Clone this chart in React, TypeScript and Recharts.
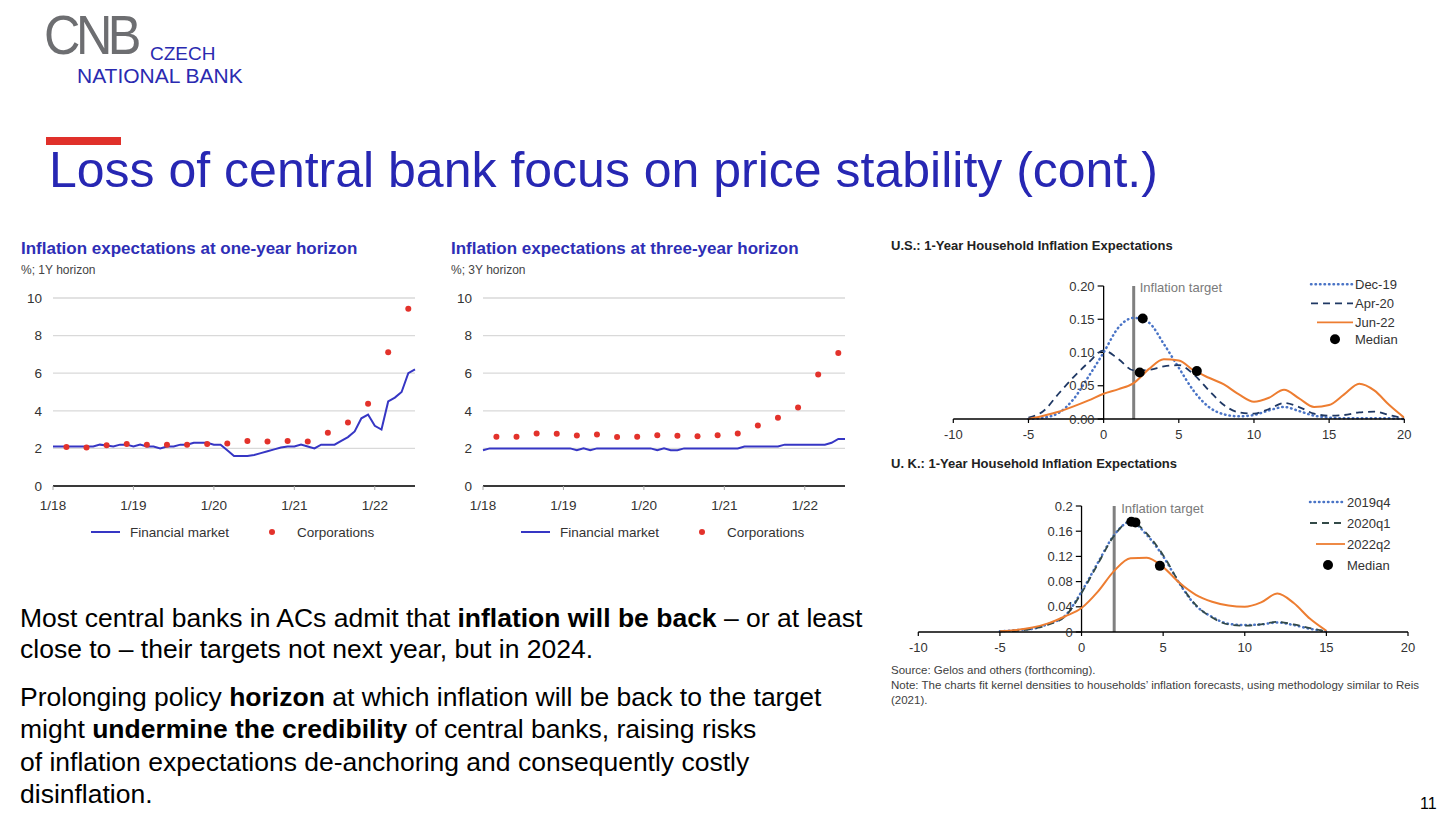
import React from 'react'
import {
  ComposedChart,
  LineChart,
  Line,
  Scatter,
  XAxis,
  YAxis,
  CartesianGrid,
  ReferenceLine,
  Legend,
} from 'recharts'

const FONT = '"Liberation Sans", Arial, Helvetica, sans-serif'
const BLUE = '#2e2eb6'

// left panels: monthly points 1/18 .. 7/22, corporations quarterly (Mar, Jun, Sep, Dec)
const YEAR_TICKS = ['1/18', '1/19', '1/20', '1/21', '1/22']

const FM_1Y = [
  2.1, 2.1, 2.1, 2.1, 2.1, 2.1, 2.1, 2.2, 2.15, 2.1, 2.2, 2.2,
  2.1, 2.2, 2.1, 2.1, 2.0, 2.1, 2.1, 2.2, 2.2, 2.3, 2.3, 2.3,
  2.2, 2.2, 1.9, 1.6, 1.6, 1.6, 1.65, 1.75, 1.85, 1.95, 2.05, 2.1,
  2.1, 2.2, 2.1, 2.0, 2.2, 2.2, 2.2, 2.4, 2.6, 2.9, 3.6, 3.8,
  3.2, 3.0, 4.5, 4.7, 5.0, 6.0, 6.2,
]
const CORP_1Y = [2.08, 2.05, 2.17, 2.24, 2.19, 2.2, 2.19, 2.24, 2.26, 2.4, 2.37, 2.4, 2.37, 2.83, 3.38, 4.38, 7.12, 9.43]

const FM_3Y = [
  1.9, 2.0, 2.0, 2.0, 2.0, 2.0, 2.0, 2.0, 2.0, 2.0, 2.0, 2.0,
  2.0, 2.0, 1.9, 2.0, 1.9, 2.0, 2.0, 2.0, 2.0, 2.0, 2.0, 2.0,
  2.0, 2.0, 1.9, 2.0, 1.9, 1.9, 2.0, 2.0, 2.0, 2.0, 2.0, 2.0,
  2.0, 2.0, 2.0, 2.1, 2.1, 2.1, 2.1, 2.1, 2.1, 2.2, 2.2, 2.2,
  2.2, 2.2, 2.2, 2.2, 2.3, 2.5, 2.5,
]
const CORP_3Y = [2.62, 2.62, 2.79, 2.78, 2.69, 2.74, 2.6, 2.62, 2.7, 2.67, 2.65, 2.7, 2.79, 3.22, 3.63, 4.18, 5.93, 7.08]

// right panels: kernel densities
const X_TICKS = [-10, -5, 0, 5, 10, 15, 20]

const US_X = [-5, -4, -3, -2, -1, 0, 1, 2, 3, 4, 5, 6, 7, 8, 9, 10, 11, 12, 13, 14, 15, 16, 17, 18, 19, 20]
const US_DEC19 = [0, 0.002, 0.009, 0.03, 0.064, 0.1, 0.138, 0.152, 0.145, 0.113, 0.077, 0.042, 0.018, 0.007, 0.004, 0.006, 0.013, 0.018, 0.012, 0.005, 0.002, 0.001, 0.001, 0.001, 0.001, 0]
const US_APR20 = [0.002, 0.012, 0.038, 0.063, 0.085, 0.103, 0.09, 0.073, 0.074, 0.079, 0.081, 0.067, 0.043, 0.021, 0.01, 0.008, 0.015, 0.024, 0.018, 0.008, 0.005, 0.006, 0.01, 0.011, 0.006, 0.001]
const US_JUN22 = [0, 0.005, 0.011, 0.019, 0.028, 0.038, 0.045, 0.054, 0.075, 0.09, 0.088, 0.073, 0.062, 0.052, 0.037, 0.026, 0.032, 0.044, 0.031, 0.018, 0.021, 0.037, 0.053, 0.043, 0.021, 0.002]
const US_MEDIAN_X = [2.6, 2.4, 6.2]
const US_MEDIAN_Y = [0.151, 0.07, 0.072]
const US_Y_TICKS = [0, 0.05, 0.1, 0.15, 0.2]
const US_Y_LABELS = ['0.00', '0.05', '0.10', '0.15', '0.20']

const UK_X = [-5, -4, -3, -2, -1, 0, 1, 2, 3, 4, 5, 6, 7, 8, 9, 10, 11, 12, 13, 14, 15]
const UK_2019Q4 = [0.001, 0.003, 0.005, 0.013, 0.026, 0.064, 0.11, 0.154, 0.175, 0.154, 0.12, 0.077, 0.042, 0.024, 0.013, 0.011, 0.012, 0.015, 0.011, 0.005, 0.001]
const UK_2020Q1 = [0.001, 0.002, 0.005, 0.012, 0.025, 0.062, 0.108, 0.153, 0.176, 0.156, 0.122, 0.078, 0.043, 0.023, 0.012, 0.01, 0.012, 0.016, 0.012, 0.006, 0.001]
const UK_2022Q2 = [0.001, 0.003, 0.007, 0.014, 0.025, 0.038, 0.064, 0.097, 0.117, 0.118, 0.103, 0.078, 0.059, 0.048, 0.042, 0.04, 0.047, 0.061, 0.046, 0.021, 0.002]
const UK_MEDIAN_X = [3.05, 3.3, 4.8]
const UK_MEDIAN_Y = [0.175, 0.174, 0.105]
const UK_Y_TICKS = [0, 0.04, 0.08, 0.12, 0.16, 0.2]
const UK_Y_LABELS = ['0', '0.04', '0.08', '0.12', '0.16', '0.2']

const monthTable = (fm: number[], corp: number[]) =>
  fm.map((v, m) => ({
    m,
    fm: v,
    corp: m >= 2 && (m - 2) % 3 === 0 && corp[(m - 2) / 3] !== undefined ? corp[(m - 2) / 3] : null,
  }))

function PanelLegend() {
  return (
    <svg width={420} height={20} style={{ display: 'block' }}>
      <line x1={81} x2={110} y1={10} y2={10} stroke="#3636c4" strokeWidth={2} />
      <text x={120} y={10} dominantBaseline="central" fontSize={13.5} fill="#333" fontFamily={FONT}>Financial market</text>
      <circle cx={262} cy={10} r={3} fill="#e3322b" />
      <text x={287} y={10} dominantBaseline="central" fontSize={13.5} fill="#333" fontFamily={FONT}>Corporations</text>
    </svg>
  )
}

function HorizonPanel({ left, title, subtitle, fm, corp }: { left: number; title: string; subtitle: string; fm: number[]; corp: number[] }) {
  const data = monthTable(fm, corp)
  return (
    <>
      <div style={{ position: 'absolute', left: left + 11, top: 239, fontSize: 17, lineHeight: '20px', fontWeight: 'bold', color: BLUE, whiteSpace: 'nowrap' }}>
        {title}
      </div>
      <div style={{ position: 'absolute', left: left + 11, top: 262, fontSize: 12, lineHeight: '16px', color: '#444', whiteSpace: 'nowrap' }}>
        {subtitle}
      </div>
      <div style={{ position: 'absolute', left, top: 285 }}>
        <LineChart width={420} height={265} data={data} margin={{ top: 13, right: 15, bottom: 34, left: 0 }}>
          <CartesianGrid vertical={false} stroke="#d9d9d9" strokeWidth={1.3} />
          <XAxis
            dataKey="m"
            type="number"
            domain={[0, 54]}
            ticks={[0, 12, 24, 36, 48]}
            interval={0}
            tickFormatter={(v: number) => YEAR_TICKS[v / 12]}
            axisLine={{ stroke: '#000', strokeWidth: 1.5 }}
            tickLine={{ stroke: '#aaa' }}
            tickSize={4}
            tickMargin={10}
            height={30}
            tick={{ fontSize: 13.5, fill: '#333', fontFamily: FONT }}
          />
          <YAxis
            type="number"
            domain={[0, 10]}
            ticks={[0, 2, 4, 6, 8, 10]}
            interval={0}
            axisLine={false}
            tickLine={false}
            tickMargin={5}
            width={43}
            tick={{ fontSize: 13.5, fill: '#333', fontFamily: FONT }}
          />
          <Line dataKey="fm" type="linear" stroke="#3636c4" strokeWidth={2} dot={false} activeDot={false} isAnimationActive={false} />
          <Line
            dataKey="corp"
            stroke="none"
            strokeWidth={0}
            dot={{ r: 3, fill: '#e3322b', stroke: 'none' }}
            activeDot={false}
            connectNulls={false}
            isAnimationActive={false}
          />
          <Legend
            layout="vertical"
            align="center"
            verticalAlign="middle"
            wrapperStyle={{ left: 0, top: 237, width: 420, height: 20 }}
            content={() => <PanelLegend />}
          />
        </LineChart>
      </div>
    </>
  )
}

type Series = { key: string; label: string; values: number[]; color: string; kind: 'dot' | 'dash' | 'solid' }

function DensityLegend({ series, rows, x1, x2, tx, dotX }: { series: Series[]; rows: number[]; x1: number; x2: number; tx: number; dotX: number }) {
  return (
    <svg width={120} height={80} style={{ display: 'block' }}>
      {series.map((s, i) => (
        <g key={s.key}>
          <line
            x1={s.kind === 'solid' ? x1 + 6 : x1}
            x2={x2}
            y1={rows[i]}
            y2={rows[i]}
            stroke={s.color}
            strokeWidth={s.kind === 'dot' ? 2.5 : 1.8}
            strokeDasharray={s.kind === 'dot' ? '0.5 4' : s.kind === 'dash' ? '7 5' : undefined}
            strokeLinecap={s.kind === 'dot' ? 'round' : 'butt'}
          />
          <text x={tx} y={rows[i]} dominantBaseline="central" fontSize={13} fill="#333" fontFamily={FONT}>{s.label}</text>
        </g>
      ))}
      <circle cx={dotX} cy={rows[3]} r={5} fill="#000" />
      <text x={tx} y={rows[3]} dominantBaseline="central" fontSize={13} fill="#333" fontFamily={FONT}>Median</text>
    </svg>
  )
}

function DensityPanel(props: {
  left: number
  top: number
  width: number
  height: number
  margin: { top: number; right: number; bottom: number; left: number }
  xs: number[]
  series: Series[]
  medX: number[]
  medY: number[]
  yTicks: number[]
  yLabels: string[]
  tickLen: number
  legendLeft: number
  legendRows: number[]
  legendX: [number, number, number, number]
  targetDx: number
  targetDy: number
}) {
  const data = props.xs.map((x, i) => {
    const row: Record<string, number> = { x }
    props.series.forEach((s) => (row[s.key] = s.values[i]))
    return row
  })
  const medians = props.medX.map((x, i) => ({ x, y: props.medY[i] }))
  const top = props.yTicks[props.yTicks.length - 1]
  return (
    <div style={{ position: 'absolute', left: props.left, top: props.top }}>
      <ComposedChart width={props.width} height={props.height} data={data} margin={props.margin}>
        <XAxis
          dataKey="x"
          type="number"
          domain={[-10, 20]}
          ticks={X_TICKS}
          interval={0}
          allowDataOverflow
          axisLine={{ stroke: '#000', strokeWidth: 1.5 }}
          tickLine={{ stroke: '#000', strokeWidth: 1.2 }}
          tickSize={4}
          tickMargin={7}
          height={25}
          tick={{ fontSize: 13, fill: '#333', fontFamily: FONT }}
        />
        <YAxis type="number" domain={[0, top]} hide />
        <ReferenceLine
          segment={[{ x: 2, y: 0 }, { x: 2, y: top }]}
          stroke="#808080"
          strokeWidth={3}
          label={(p: any) => (
            <text
              x={p.viewBox.x + props.targetDx}
              y={p.viewBox.y + props.targetDy}
              dominantBaseline="central"
              fontSize={13}
              fill="#7a7a7a"
              fontFamily={FONT}
            >
              Inflation target
            </text>
          )}
        />
        <ReferenceLine segment={[{ x: 0, y: 0 }, { x: 0, y: top }]} stroke="#000" strokeWidth={1.3} />
        {props.yTicks.map((v, i) => (
          <ReferenceLine
            key={v}
            segment={[{ x: -props.tickLen, y: v }, { x: 0, y: v }]}
            stroke="#000"
            strokeWidth={1.2}
            label={{ value: props.yLabels[i], position: 'left', offset: 3, fontSize: 13, fill: '#333', fontFamily: FONT }}
          />
        ))}
        {props.series.map((s) => (
          <Line
            key={s.key}
            dataKey={s.key}
            type="monotone"
            stroke={s.color}
            strokeWidth={s.kind === 'dot' ? 2.5 : s.kind === 'dash' ? 1.8 : 2}
            strokeDasharray={s.kind === 'dot' ? '0.5 4' : s.kind === 'dash' ? '7 5' : undefined}
            strokeLinecap={s.kind === 'dot' ? 'round' : 'butt'}
            dot={false}
            activeDot={false}
            isAnimationActive={false}
          />
        ))}
        <Scatter
          data={medians}
          dataKey="y"
          fill="#000"
          shape={(p: any) => <circle cx={p.cx} cy={p.cy} r={5} fill="#000" />}
          isAnimationActive={false}
        />
        <Legend
          layout="vertical"
          align="center"
          verticalAlign="middle"
          wrapperStyle={{ left: props.legendLeft, top: 0, width: 120, height: 80 }}
          content={() => (
            <DensityLegend
              series={props.series}
              rows={props.legendRows}
              x1={props.legendX[0]}
              x2={props.legendX[1]}
              tx={props.legendX[2]}
              dotX={props.legendX[3]}
            />
          )}
        />
      </ComposedChart>
    </div>
  )
}

const US_SERIES: Series[] = [
  { key: 'dec19', label: 'Dec-19', values: US_DEC19, color: '#4a74c6', kind: 'dot' },
  { key: 'apr20', label: 'Apr-20', values: US_APR20, color: '#1f3864', kind: 'dash' },
  { key: 'jun22', label: 'Jun-22', values: US_JUN22, color: '#ed7d31', kind: 'solid' },
]
const UK_SERIES: Series[] = [
  { key: 'q4', label: '2019q4', values: UK_2019Q4, color: '#4a74c6', kind: 'dot' },
  { key: 'q1', label: '2020q1', values: UK_2020Q1, color: '#334a48', kind: 'dash' },
  { key: 'q2', label: '2022q2', values: UK_2022Q2, color: '#ed7d31', kind: 'solid' },
]

export default function App() {
  return (
    <div style={{ position: 'absolute', left: 0, top: 0, width: 1456, height: 824, background: '#fff', overflow: 'hidden', fontFamily: FONT, color: '#000' }}>
      {/* logo */}
      <div style={{ position: 'absolute', left: 44, top: 2, fontSize: 56, lineHeight: 'normal', color: '#6d6e71', transform: 'scaleX(0.9)', transformOrigin: 'left top', letterSpacing: -5, whiteSpace: 'nowrap' }}>
        CNB
      </div>
      <div style={{ position: 'absolute', left: 150, top: 43, fontSize: 19, lineHeight: 'normal', color: '#2a2ab0', whiteSpace: 'nowrap' }}>CZECH</div>
      <div style={{ position: 'absolute', left: 77, top: 63.5, fontSize: 21, lineHeight: 'normal', color: '#2a2ab0', whiteSpace: 'nowrap' }}>NATIONAL BANK</div>

      {/* title */}
      <div style={{ position: 'absolute', left: 46, top: 137, width: 75, height: 8, background: '#e0302a' }} />
      <div style={{ position: 'absolute', left: 49, top: 141, fontSize: 50, color: '#2727b3', whiteSpace: 'nowrap' }}>
        Loss of central bank focus on price stability (cont.)
      </div>

      <HorizonPanel left={10} title="Inflation expectations at one-year horizon" subtitle="%; 1Y horizon" fm={FM_1Y} corp={CORP_1Y} />
      <HorizonPanel left={440} title="Inflation expectations at three-year horizon" subtitle="%; 3Y horizon" fm={FM_3Y} corp={CORP_3Y} />

      <div style={{ position: 'absolute', left: 891, top: 237.5, fontSize: 13, lineHeight: '15px', fontWeight: 'bold', color: '#222', whiteSpace: 'nowrap' }}>
        U.S.: 1-Year Household Inflation Expectations
      </div>
      <DensityPanel
        left={940}
        top={275}
        width={480}
        height={169}
        margin={{ top: 11, right: 15.7, bottom: 0, left: 13.3 }}
        xs={US_X}
        series={US_SERIES}
        medX={US_MEDIAN_X}
        medY={US_MEDIAN_Y}
        yTicks={US_Y_TICKS}
        yLabels={US_Y_LABELS}
        tickLen={0.4}
        legendLeft={365}
        legendRows={[9.3, 28.3, 47.3, 64.3]}
        legendX={[6, 48, 50, 30]}
        targetDx={6}
        targetDy={1}
      />

      <div style={{ position: 'absolute', left: 891, top: 455.5, fontSize: 13, lineHeight: '15px', fontWeight: 'bold', color: '#222', whiteSpace: 'nowrap' }}>
        U. K.: 1-Year Household Inflation Expectations
      </div>
      <DensityPanel
        left={900}
        top={495}
        width={523}
        height={162}
        margin={{ top: 11, right: 15, bottom: 0, left: 18.3 }}
        xs={UK_X}
        series={UK_SERIES}
        medX={UK_MEDIAN_X}
        medY={UK_MEDIAN_Y}
        yTicks={UK_Y_TICKS}
        yLabels={UK_Y_LABELS}
        tickLen={0.35}
        legendLeft={400}
        legendRows={[7, 28, 49, 70]}
        legendX={[10, 45, 47, 28]}
        targetDx={7}
        targetDy={2}
      />

      <div style={{ position: 'absolute', left: 891, top: 662.5, fontSize: 11.5, lineHeight: '15px', color: '#404040', whiteSpace: 'nowrap' }}>
        Source: Gelos and others (forthcoming).
        <br />
        Note: The charts fit kernel densities to households’ inflation forecasts, using methodology similar to Reis
        <br />
        (2021).
      </div>

      {/* body text */}
      <div style={{ position: 'absolute', left: 20, top: 602.5, fontSize: 26.5, lineHeight: '31px', whiteSpace: 'nowrap' }}>
        Most central banks in ACs admit that <b>inflation will be back</b> – or at least
        <br />
        close to – their targets not next year, but in 2024.
      </div>
      <div style={{ position: 'absolute', left: 20, top: 681, fontSize: 26.5, lineHeight: '32.3px', whiteSpace: 'nowrap' }}>
        Prolonging policy <b>horizon</b> at which inflation will be back to the target
        <br />
        might <b>undermine the credibility</b> of central banks, raising risks
        <br />
        of inflation expectations de-anchoring and consequently costly
        <br />
        disinflation.
      </div>

      <div style={{ position: 'absolute', left: 1420, top: 795, fontSize: 16, whiteSpace: 'nowrap' }}>11</div>
    </div>
  )
}
